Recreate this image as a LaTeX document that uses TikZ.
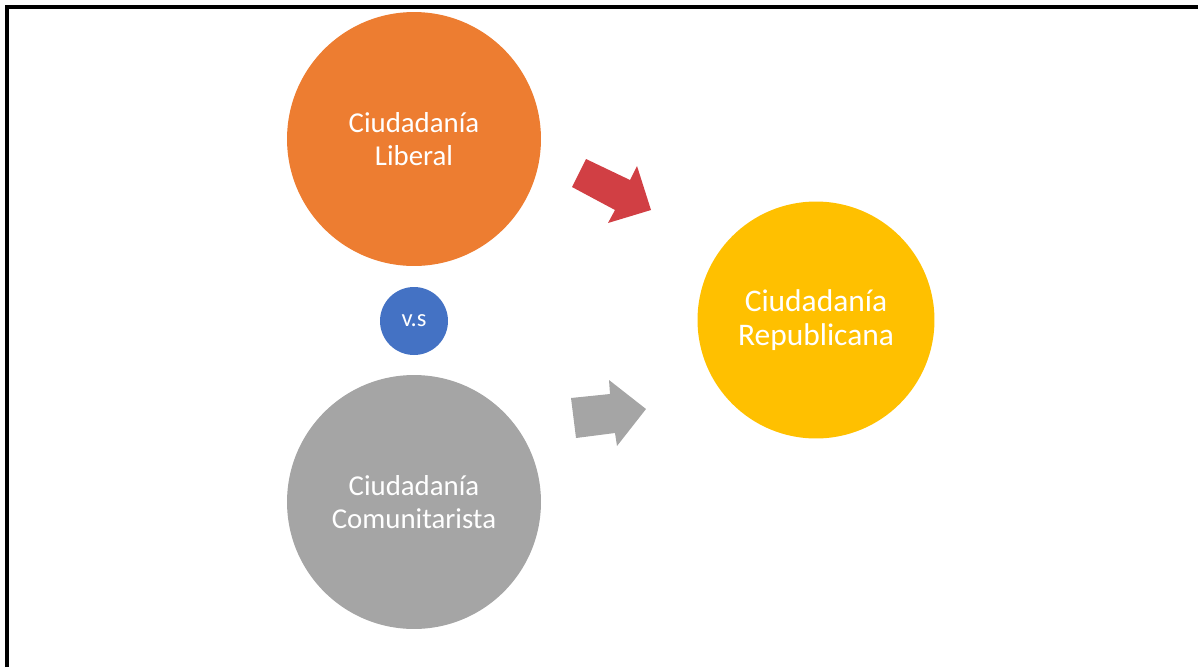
\documentclass[tikz,border=0pt]{standalone}
\usepackage{fontspec}
\setmainfont{Carlito}
\definecolor{liberalOrange}{HTML}{ED7D31}
\definecolor{comunGray}{HTML}{A5A5A5}
\definecolor{repubYellow}{HTML}{FFC000}
\definecolor{vsBlue}{HTML}{4472C4}
\definecolor{arrowRed}{HTML}{D13F44}

\begin{document}
\begin{tikzpicture}[
      x=0.02cm, y=-0.02cm,
      ciudad/.style={circle, inner sep=0pt, minimum size=5.08cm, align=center, text=white, font=\fontsize{16.4}{19}\selectfont},
      meta/.style={circle, inner sep=0pt, minimum size=4.74cm, align=center, text=white, fill=repubYellow, font=\fontsize{17.9}{19.5}\selectfont},
      versus/.style={circle, inner sep=0pt, minimum size=1.36cm, text=white, fill=vsBlue, font=\fontsize{14}{16}\selectfont},
      frame/.style={line width=2pt, black}
    ]
    \useasboundingbox (0,0) rectangle (1198,667);
    \draw[frame] (7,667) -- (7,7) -- (1198,7);

    \node[ciudad, fill=liberalOrange] (lib) at (414,139) {Ciudadanía\\Liberal};
    \node[ciudad, fill=comunGray] (com) at (414,502) {Ciudadanía\\Comunitarista};
    \node[versus] (vs) at (414,321) {v.s};
    \node[meta] (rep) at (816,320) {Ciudadanía\\Republicana};

    % block arrows towards the republican circle
    \fill[arrowRed] (586,159) -- (630,180) -- (637,166) -- (651,210) -- (608,223) -- (615,210) -- (572,187) -- cycle;
    \fill[comunGray] (571,398) -- (610,394) -- (609,380) -- (646,409) -- (617,446) -- (615,433) -- (576,438) -- cycle;
  \end{tikzpicture}
\end{document}
